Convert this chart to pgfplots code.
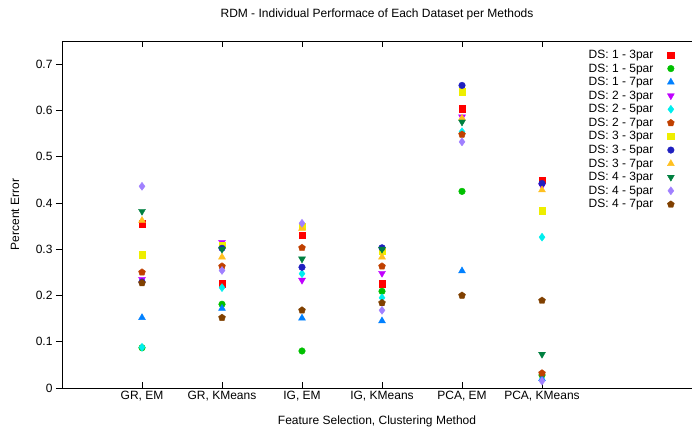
\documentclass[border=0pt]{standalone}
\usepackage{pgfplots}
\pgfplotsset{compat=1.18}
\usepackage{fontspec}
\setmainfont{Liberation Sans}

\definecolor{c1}{HTML}{FF0000}
\definecolor{c2}{HTML}{00C000}
\definecolor{c3}{HTML}{0080FF}
\definecolor{c4}{HTML}{C000FF}
\definecolor{c5}{HTML}{00EEEE}
\definecolor{c6}{HTML}{C04000}
\definecolor{c7}{HTML}{EEEE00}
\definecolor{c8}{HTML}{2020C0}
\definecolor{c9}{HTML}{FFC020}
\definecolor{c10}{HTML}{008040}
\definecolor{c11}{HTML}{A080FF}
\definecolor{c12}{HTML}{804000}

\begin{document}
\begin{tikzpicture}
\begin{axis}[
    scale only axis,
    width=630pt, height=347pt,
    xmin=0, xmax=7.875,
    ymin=0, ymax=0.75,
    axis x line=box, axis y line=left,
    axis line style={line width=0.8pt, -},
    xtick={1,2,3,4,5,6},
    xticklabels={{GR, EM},{GR, KMeans},{IG, EM},{IG, KMeans},{PCA, EM},{PCA, KMeans}},
    ytick={0,0.1,0.2,0.3,0.4,0.5,0.6,0.7},
    xtick align=inside,
    ytick align=outside,
    major tick length=6pt,
    tick style={black, line width=0.6pt},
    font=\fontsize{12}{14}\selectfont,
    /pgf/number format/assume math mode=true,
    title={RDM - Individual Performace of Each Dataset per Methods},
    title style={at={(axis description cs:0.5,1.0605)}, anchor=center},
    xlabel={Feature Selection, Clustering Method},
    xlabel style={at={(axis description cs:0.5,-0.095)}, anchor=center},
    ylabel={Percent Error},
    ylabel style={at={(axis description cs:-0.0746,0.5)}, anchor=center},
    legend style={at={(axis description cs:0.977,0.986)}, anchor=north east,
        draw=none, fill=none, legend cell align=right, row sep=-0.3pt,
        /tikz/every odd column/.style={column sep=12pt}},
    legend plot pos=right,
    every axis plot/.append style={only marks},
]
\addplot[c1, mark=square*, mark size=3.2pt] coordinates {(1,0.355)(2,0.225)(3,0.330)(4,0.225)(5,0.604)(6,0.449)};
\addlegendentry{DS: 1 - 3par}
\addplot[c2, mark=*, mark size=3.3pt] coordinates {(1,0.087)(2,0.181)(3,0.080)(4,0.209)(5,0.425)(6,0.028)};
\addlegendentry{DS: 1 - 5par}
\addplot[c3, mark=triangle*, mark size=4pt] coordinates {(1,0.152)(2,0.172)(3,0.151)(4,0.145)(5,0.253)(6,0.020)};
\addlegendentry{DS: 1 - 7par}
\addplot[c4, mark=triangle*, mark size=4pt, mark options={rotate=180}] coordinates {(1,0.235)(2,0.315)(3,0.233)(4,0.248)(5,0.586)(6,0.437)};
\addlegendentry{DS: 2 - 3par}
\addplot[c5, mark=diamond*, mark size=4pt] coordinates {(1,0.088)(2,0.217)(3,0.247)(4,0.195)(5,0.554)(6,0.326)};
\addlegendentry{DS: 2 - 5par}
\addplot[c6, mark=pentagon*, mark size=3.6pt] coordinates {(1,0.250)(2,0.263)(3,0.303)(4,0.263)(5,0.548)(6,0.032)};
\addlegendentry{DS: 2 - 7par}
\addplot[c7, mark=square*, mark size=3.2pt] coordinates {(1,0.288)(2,0.308)(3,0.350)(4,0.296)(5,0.640)(6,0.383)};
\addlegendentry{DS: 3 - 3par}
\addplot[c8, mark=*, mark size=3.3pt] coordinates {(1,0.229)(2,0.302)(3,0.261)(4,0.303)(5,0.654)(6,0.442)};
\addlegendentry{DS: 3 - 5par}
\addplot[c9, mark=triangle*, mark size=4pt] coordinates {(1,0.362)(2,0.283)(3,0.345)(4,0.283)(5,0.583)(6,0.428)};
\addlegendentry{DS: 3 - 7par}
\addplot[c10, mark=triangle*, mark size=4pt, mark options={rotate=180}] coordinates {(1,0.382)(2,0.300)(3,0.279)(4,0.300)(5,0.575)(6,0.073)};
\addlegendentry{DS: 4 - 3par}
\addplot[c11, mark=diamond*, mark size=4pt] coordinates {(1,0.436)(2,0.254)(3,0.356)(4,0.168)(5,0.532)(6,0.015)};
\addlegendentry{DS: 4 - 5par}
\addplot[c12, mark=pentagon*, mark size=3.6pt] coordinates {(1,0.227)(2,0.152)(3,0.168)(4,0.184)(5,0.200)(6,0.189)};
\addlegendentry{DS: 4 - 7par}
\end{axis}
\pgfresetboundingbox
\path[use as bounding box] (current axis.south west) ++(-62pt,-39pt) rectangle ++(692pt,427pt);
\end{tikzpicture}
\end{document}
